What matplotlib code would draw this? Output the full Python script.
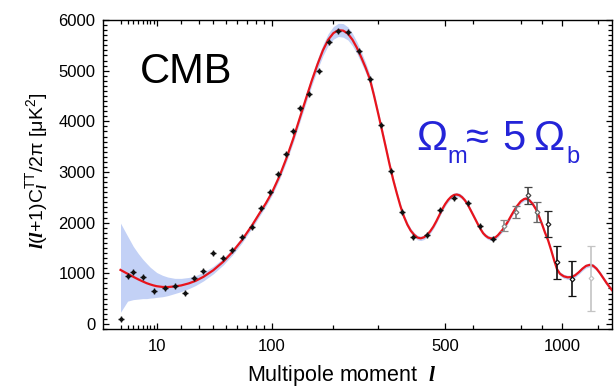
import matplotlib

matplotlib.use("Agg")
import matplotlib.pyplot as plt
import numpy as np
from matplotlib.ticker import FixedLocator, NullFormatter, FixedFormatter, MultipleLocator


# best-fit power spectrum (red line)
ell_fit = [2, 3, 4, 5, 6, 7, 8, 9, 10, 12, 14, 17, 20, 24, 28, 33, 40, 48, 56, 65,
           76, 85, 92, 100, 110, 120, 130, 140, 150, 160, 170, 180, 190, 200, 210,
           220, 230, 240, 250, 260, 270, 280, 290, 300, 310, 320, 330, 340, 350,
           360, 370, 380, 390, 400, 410, 420, 430, 440, 450, 460, 470, 480, 490,
           500, 510, 520, 530, 540, 550, 560, 570, 580, 590, 600, 610, 620, 630,
           640, 650, 660, 670, 680, 690, 700, 720, 740, 760, 780, 800, 815, 825,
           840, 855, 870, 885, 900, 915, 930, 945, 960, 975, 990, 1010, 1030, 1050,
           1070, 1090, 1110, 1130, 1150, 1170, 1190, 1210, 1230, 1250, 1280]
dl_fit = [1066, 990, 930, 880, 840, 805, 780, 760, 745, 730, 728, 740, 760, 800, 850,
          930, 1060, 1230, 1420, 1650, 1950, 2200, 2380, 2600, 2920, 3280, 3660, 4060,
          4440, 4800, 5120, 5400, 5610, 5740, 5800, 5790, 5730, 5610, 5450, 5260, 5060,
          4840, 4520, 4180, 3840, 3500, 3160, 2850, 2580, 2330, 2120, 1960, 1840, 1760,
          1705, 1690, 1710, 1760, 1830, 1920, 2030, 2150, 2270, 2370, 2450, 2510, 2545,
          2555, 2540, 2500, 2440, 2360, 2260, 2160, 2060, 1960, 1870, 1790, 1740, 1705,
          1690, 1690, 1710, 1750, 1860, 2000, 2160, 2310, 2420, 2465, 2475, 2440, 2370,
          2270, 2130, 1970, 1800, 1650, 1460, 1260, 1080, 990, 940, 920, 925, 960, 1020,
          1090, 1145, 1165, 1150, 1090, 1000, 900, 800, 670]

# cosmic variance band: offsets above / below the fit
band_ell = [2, 3, 4, 5, 6, 8, 10, 13, 17, 22, 30, 45, 70, 100, 150, 200, 220, 260,
            300, 400, 600, 1300]
band_up = [924, 745, 600, 510, 440, 340, 270, 210, 160, 125, 95, 70, 55, 60, 90, 130,
           140, 110, 70, 45, 40, 40]
band_down = [836, 540, 450, 390, 340, 270, 220, 180, 140, 110, 85, 65, 55, 60, 90, 120,
             130, 110, 70, 45, 40, 40]

# binned data points (small crosses)
ell_pts = [2, 3, 4, 6, 9, 13, 17, 22, 27, 33, 40, 48, 56, 65, 76, 86, 97, 108, 119,
           130, 141, 156, 173, 192, 210, 231, 255, 281, 308, 334, 364, 398, 439, 483,
           529, 580, 628, 679]
dl_pts = [97, 954, 1019, 934, 657, 703, 750, 604, 901, 1053, 1403, 1296, 1462, 1712,
          1910, 2290, 2600, 2960, 3350, 3800, 4272, 4549, 4996, 5570, 5782, 5768, 5392,
          4838, 3922, 3011, 2206, 1725, 1759, 2254, 2491, 2392, 1929, 1680]

# high-l points with error bars
ell_hi = [728, 778, 831, 877, 929, 977, 1053, 1158]
dl_hi = [1943, 2206, 2537, 2206, 1977, 1217, 888, 900]
err_hi = [100, 115, 160, 200, 257, 330, 346, 637]
col_hi = ["#8a8a8a", "#777777", "#444444", "#666666", "#222222", "#111111",
          "#111111", "#c4c4c4"]

x_major = [10, 100, 500, 1000]
x_minor = [2, 3, 4, 5, 6, 7, 8, 9, 20, 30, 40, 50, 60, 70, 80, 90, 200, 300, 600,
           800, 900, 1200]
y_ticks = [0, 1000, 2000, 3000, 4000, 5000, 6000]

BLUE = "#2424d8"


def forward(x):
    return np.sign(x) * np.abs(x) ** 0.4


def inverse(x):
    return np.sign(x) * np.abs(x) ** 2.5


def main() -> None:
    plt.rcParams["font.family"] = ["Liberation Sans", "DejaVu Sans"]
    plt.rcParams["mathtext.fontset"] = "custom"
    plt.rcParams["mathtext.rm"] = "Liberation Sans"
    plt.rcParams["mathtext.it"] = "Liberation Serif:italic:bold"

    fig = plt.figure(figsize=(6.16, 3.89), dpi=100)
    ax = fig.add_axes([103 / 616, 1 - 329 / 389, 509 / 616, 309 / 389])
    ax.set_xscale("function", functions=(forward, inverse))

    ell = np.array(ell_fit, dtype=float)
    dl = np.array(dl_fit, dtype=float)
    up = np.interp(ell, band_ell, band_up)
    down = np.interp(ell, band_ell, band_down)
    ax.fill_between(ell, dl - down, dl + up, color="#c3d1f6", lw=0, zorder=1)
    ax.plot(ell, dl, color="#e8141c", lw=1.6, zorder=3, solid_joinstyle="round")

    ax.plot(ell_pts, dl_pts, ls="none", marker="+", ms=4.2, mew=1.0, color="#111111",
            zorder=4)
    ax.plot(ell_pts, dl_pts, ls="none", marker="o", ms=2.0, color="#111111", zorder=4)

    for l, d, e, c in zip(ell_hi, dl_hi, err_hi, col_hi):
        ax.errorbar(l, d, yerr=e, fmt="D", ms=2.4, mfc="white", mec=c, mew=0.9,
                    ecolor=c, elinewidth=1.2, capsize=3.2, capthick=1.2, zorder=4)

    ax.set_xlim(0.476, 1281)
    ax.set_ylim(-100, 6000)

    ax.xaxis.set_major_locator(FixedLocator(x_major))
    ax.xaxis.set_major_formatter(FixedFormatter([str(v) for v in x_major]))
    ax.xaxis.set_minor_locator(FixedLocator(x_minor))
    ax.xaxis.set_minor_formatter(NullFormatter())
    ax.yaxis.set_major_locator(FixedLocator(y_ticks))
    ax.yaxis.set_minor_locator(MultipleLocator(100))

    ax.tick_params(which="both", direction="in", top=True, right=True,
                   width=0.9, labelsize=12)
    ax.tick_params(which="major", length=4.5)
    ax.tick_params(which="minor", length=3.2)
    ax.tick_params(axis="x", pad=7)
    ax.tick_params(axis="y", pad=5.5)
    for sp in ax.spines.values():
        sp.set_linewidth(1.0)

    ax.set_xlabel(r"Multipole moment  $\mathit{l}$", fontsize=15.5)
    ax.xaxis.set_label_coords(0.47, -0.11)
    ax.set_ylabel(r"$\mathit{l}$($\mathit{l}$+1)C$_{\mathit{l}}^{\rm TT}$/2π [μK$^2$]",
                  fontsize=14)
    ax.yaxis.set_label_coords(-0.102, 0.511)

    def px(x, y):
        return x / 616, 1 - y / 389

    fig.text(*px(140, 83), "CMB", fontsize=30, va="baseline", ha="left")

    fig.text(*px(416, 150), "Ω", fontsize=30, color=BLUE, va="baseline")
    fig.text(*px(447, 163), "m", fontsize=17, color=BLUE, va="baseline")
    fig.text(*px(466, 150), "≈", fontsize=30, color=BLUE, va="baseline")
    fig.text(*px(502, 150), "5", fontsize=30, color=BLUE, va="baseline")
    fig.text(*px(533, 150), "Ω", fontsize=30, color=BLUE, va="baseline")
    fig.text(*px(566, 163), "b", fontsize=17, color=BLUE, va="baseline")

    fig.savefig("out.png", dpi=100)
    plt.close(fig)


if __name__ == "__main__":
    main()
